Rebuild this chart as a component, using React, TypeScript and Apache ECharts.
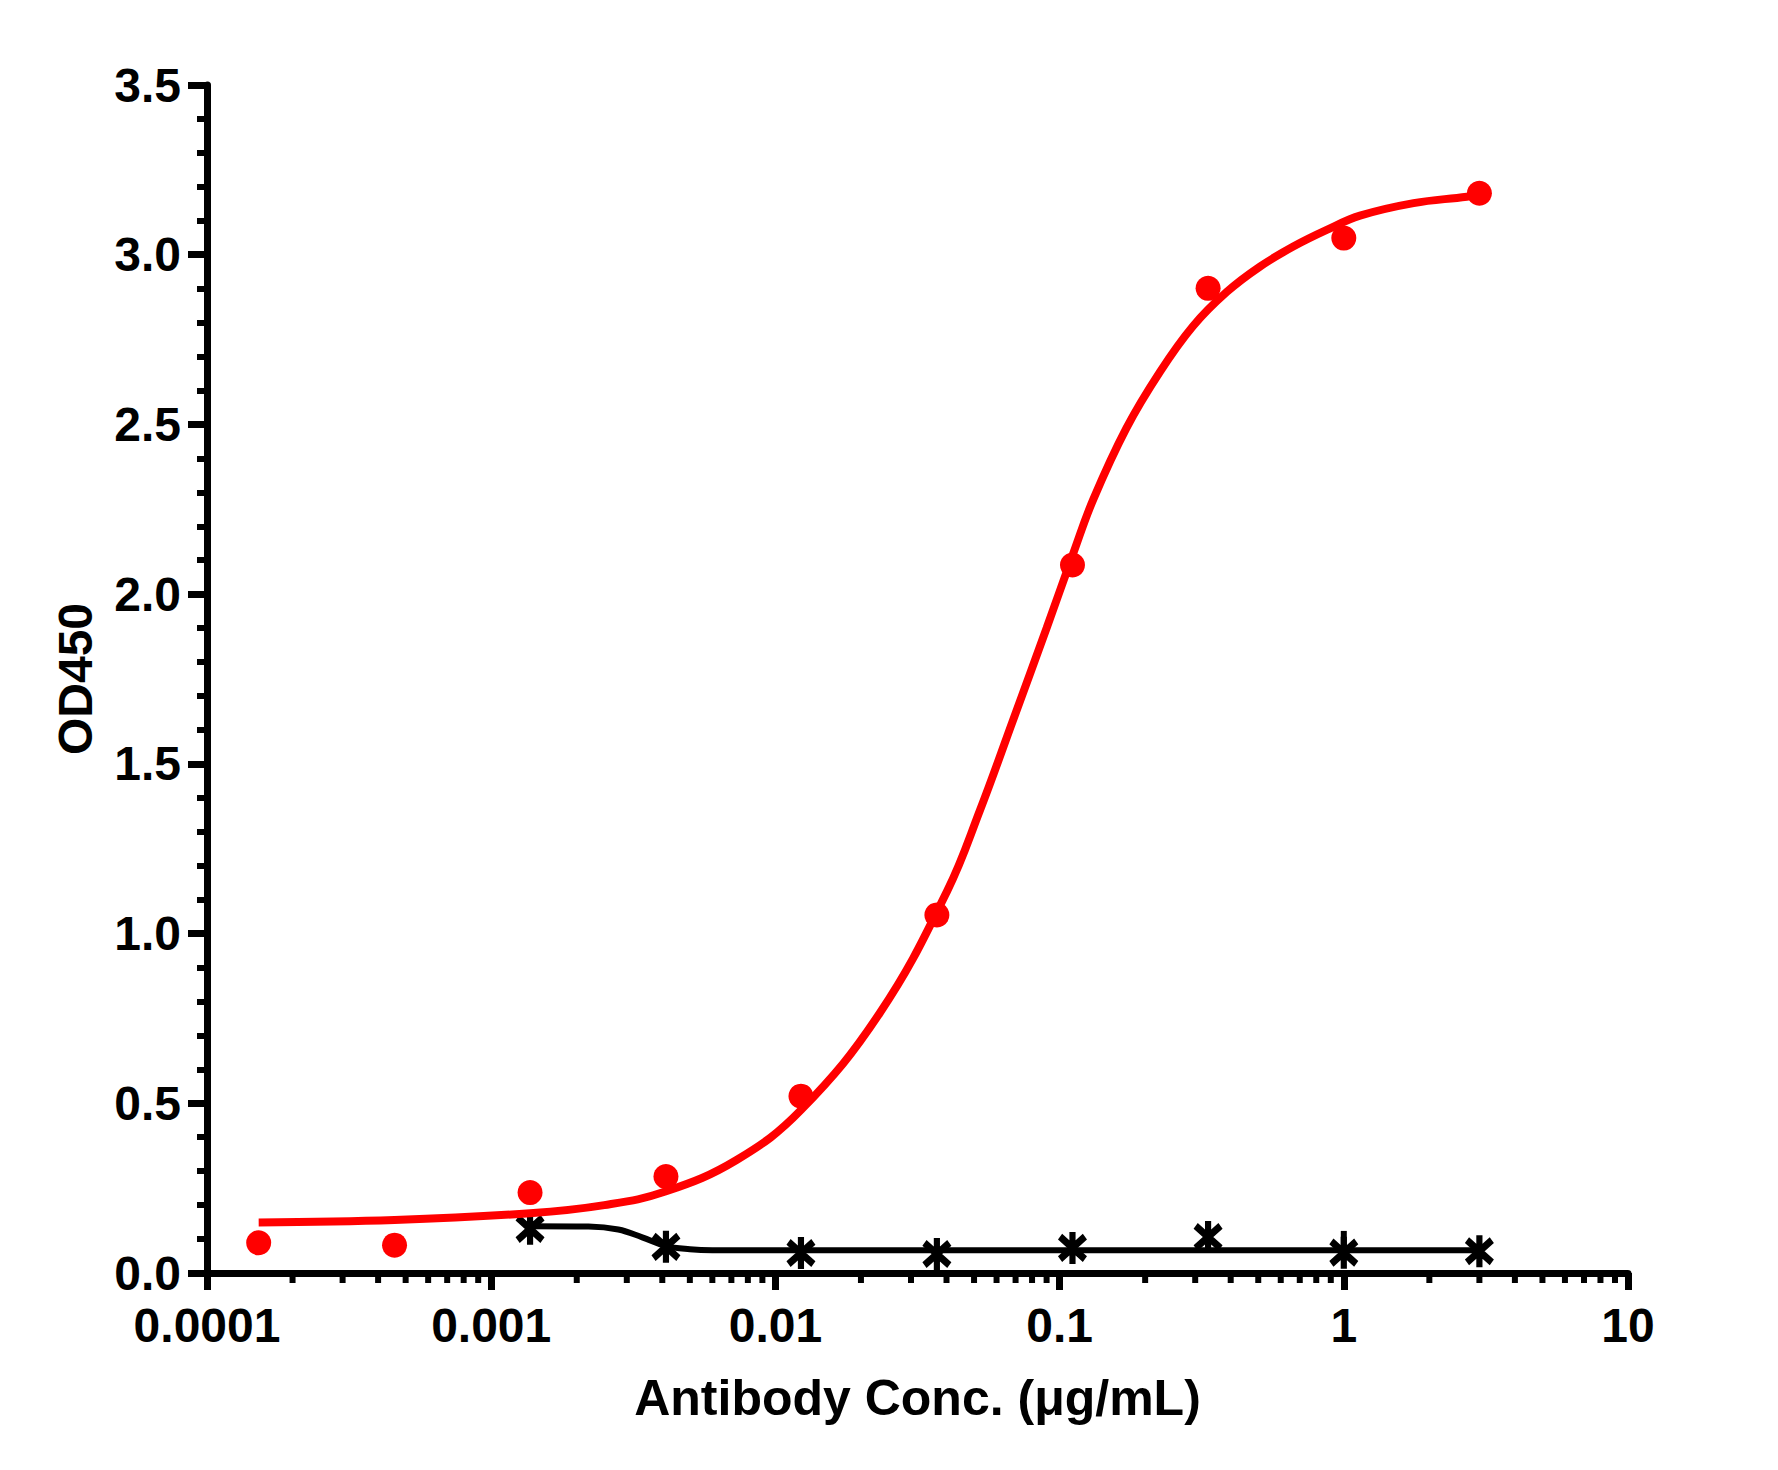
import { useEffect, useRef } from 'react';
import * as echarts from 'echarts';

// measured points (ug/mL vs OD450)
const concentrations = [0.000152, 0.000457, 0.00137, 0.00412, 0.0123, 0.037, 0.111, 0.333, 1, 3];
const redOD = [0.089, 0.082, 0.237, 0.284, 0.521, 1.055, 2.086, 2.901, 3.049, 3.181];

const blackConc = [0.00137, 0.00412, 0.0123, 0.037, 0.111, 0.333, 1, 3];
const blackOD = [0.13, 0.077, 0.059, 0.056, 0.074, 0.106, 0.06, 0.064];
// only visible error bar (at 1 ug/mL)
const blackErrX = [1];
const blackErrHigh = [0.124];

// fitted curves
const redFitX = [0.000152, 0.000457, 0.00137, 0.0025, 0.0041, 0.0073, 0.0123, 0.0233, 0.0402, 0.0525, 0.0686, 0.09, 0.1117, 0.1315, 0.172, 0.2255, 0.295, 0.387, 0.507, 0.664, 0.871, 1.14, 1.76, 2.71, 3];
const redFitY = [0.149, 0.156, 0.176, 0.2, 0.24, 0.333, 0.48, 0.766, 1.125, 1.364, 1.629, 1.9, 2.12, 2.28, 2.49, 2.655, 2.79, 2.89, 2.965, 3.024, 3.073, 3.115, 3.152, 3.171, 3.178];

const blackFitX = [0.00137, 0.0022, 0.0028, 0.0034, 0.0041, 0.005, 0.006, 0.01, 0.1, 1, 3];
const blackFitY = [0.138, 0.137, 0.128, 0.105, 0.08, 0.07, 0.067, 0.067, 0.067, 0.067, 0.067];

const xTickLabels = ['0.0001', '0.001', '0.01', '0.1', '1', '10'];
const decades = [0.0001, 0.001, 0.01, 0.1, 1];
const minorSteps = [2, 3, 4, 5, 6, 7, 8, 9];

const FONT = 'Arial, "Liberation Sans", sans-serif';
const ASTERISK =
  'path://M40 0L60 0L60 100L40 100Z M16.5 6L97 76L83.5 94L3 24Z M83.5 6L97 24L16.5 94L3 76Z';

const zip = (xs: number[], ys: number[]) => xs.map((x, i) => [x, ys[i]]);

const App = () => {
  const chartRef = useRef<HTMLDivElement>(null);

  useEffect(() => {
    document.body.style.margin = '0';
    if (!chartRef.current) return;
    const chart = echarts.init(chartRef.current, null, { renderer: 'svg' });

    const minorTicks: number[][] = [];
    decades.forEach((d) => minorSteps.forEach((m) => minorTicks.push([d * m, 0])));

    const option = {
      animation: false,
      backgroundColor: '#fff',
      grid: { left: 207, right: 150, top: 85, bottom: 197, containLabel: false },
      xAxis: {
        type: 'log',
        logBase: 10,
        min: 0.0001,
        max: 10,
        splitNumber: 5,
        name: 'Antibody Conc. (μg/mL)',
        nameLocation: 'middle',
        nameGap: 100,
        nameTextStyle: { fontFamily: FONT, fontWeight: 'bold', fontSize: 50, color: '#000' },
        axisLine: { show: true, onZero: false, lineStyle: { color: '#000', width: 7 } },
        axisTick: { show: true, length: 17, lineStyle: { color: '#000', width: 7 } },
        axisLabel: {
          margin: 28,
          fontFamily: FONT,
          fontWeight: 'bold',
          fontSize: 48,
          color: '#000',
          formatter: (v: number) => xTickLabels[Math.round(Math.log10(v)) + 4] ?? ''
        },
        splitLine: { show: false }
      },
      yAxis: {
        type: 'value',
        min: 0,
        max: 3.5,
        interval: 0.5,
        name: 'OD450',
        nameLocation: 'middle',
        nameGap: 108,
        nameRotate: 90,
        nameTextStyle: { fontFamily: FONT, fontWeight: 'bold', fontSize: 48, color: '#000' },
        axisLine: { show: true, lineStyle: { color: '#000', width: 7 } },
        axisTick: { show: true, length: 19, lineStyle: { color: '#000', width: 7 } },
        minorTick: { show: true, splitNumber: 5, length: 10, lineStyle: { color: '#000', width: 6 } },
        axisLabel: {
          margin: 26,
          fontFamily: FONT,
          fontWeight: 'bold',
          fontSize: 48,
          color: '#000',
          formatter: (v: number) => v.toFixed(1)
        },
        splitLine: { show: false }
      },
      series: [
        {
          name: 'x minor ticks',
          type: 'custom',
          silent: true,
          clip: false,
          data: minorTicks,
          renderItem: (_p: any, api: any) => {
            const pt = api.coord([api.value(0), 0]);
            return {
              type: 'line',
              shape: { x1: pt[0], y1: pt[1], x2: pt[0], y2: pt[1] + 10 },
              style: { stroke: '#000', lineWidth: 6 }
            };
          }
        },
        {
          name: 'control fit',
          type: 'line',
          data: zip(blackFitX, blackFitY),
          showSymbol: false,
          smooth: 0.4,
          lineStyle: { color: '#000', width: 6 },
          z: 3
        },
        {
          name: 'control error',
          type: 'custom',
          silent: true,
          data: blackErrX.map((x, i) => [x, blackOD[blackConc.indexOf(x)], blackErrHigh[i]]),
          renderItem: (_p: any, api: any) => {
            const lo = api.coord([api.value(0), api.value(1)]);
            const hi = api.coord([api.value(0), api.value(2)]);
            return {
              type: 'line',
              shape: { x1: lo[0], y1: lo[1], x2: hi[0], y2: hi[1] },
              style: { stroke: '#000', lineWidth: 6 }
            };
          },
          z: 4
        },
        {
          name: 'control',
          type: 'scatter',
          data: zip(blackConc, blackOD),
          symbol: ASTERISK,
          symbolSize: [29, 32],
          itemStyle: { color: '#000', opacity: 1 },
          z: 4
        },
        {
          name: 'antibody fit',
          type: 'line',
          data: zip(redFitX, redFitY),
          showSymbol: false,
          smooth: 0.4,
          lineStyle: { color: '#ff0000', width: 8 },
          z: 5
        },
        {
          name: 'antibody',
          type: 'scatter',
          data: zip(concentrations, redOD),
          symbol: 'circle',
          symbolSize: 25,
          itemStyle: { color: '#ff0000', opacity: 1 },
          z: 6
        }
      ]
    };
    chart.setOption(option);

    const handleResize = () => chart.resize();
    window.addEventListener('resize', handleResize);
    return () => {
      window.removeEventListener('resize', handleResize);
      chart.dispose();
    };
  }, []);

  return <div ref={chartRef} style={{ width: '1778px', height: '1470px' }} />;
};

export default App;
